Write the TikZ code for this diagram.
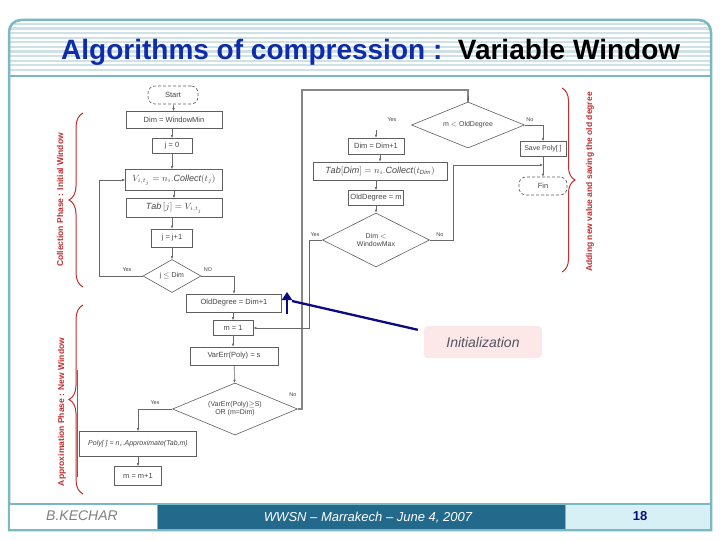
\documentclass[tikz,border=0pt]{standalone}
\usepackage{fontspec}
\setmainfont{Liberation Sans}
\usetikzlibrary{shapes.geometric,arrows.meta,decorations.pathreplacing}
\definecolor{frameC}{RGB}{120,185,195}
\definecolor{stripeC}{RGB}{205,225,230}
\definecolor{titleB}{RGB}{15,45,170}
\definecolor{braceC}{RGB}{195,45,45}
\definecolor{footD}{RGB}{35,105,140}
\definecolor{footL}{RGB}{215,240,245}
\definecolor{navyC}{RGB}{10,10,130}
\definecolor{boxC}{RGB}{95,95,95}
\definecolor{lineC}{RGB}{105,105,105}
\definecolor{txtC}{RGB}{70,70,70}
\definecolor{pinkC}{RGB}{252,232,232}
\definecolor{initT}{RGB}{85,85,95}
\tikzset{
  fb/.style={draw=boxC, line width=0.6pt, fill=white, text=txtC, font=\fontsize{7.5}{8.5}\selectfont, inner sep=1pt, align=center},
  mb/.style={fb, font=\fontsize{9}{10}\selectfont},
  dia/.style={fb, diamond, inner sep=0pt, font=\fontsize{7}{8}\selectfont},
  term/.style={fb, rounded corners=7pt, densely dashed},
  arr/.style={draw=lineC, line width=0.6pt, -{Latex[length=3pt,width=2.6pt]}},
  glab/.style={text=txtC, font=\fontsize{5.5}{6}\selectfont, inner sep=0pt},
  brc/.style={draw=braceC, line width=1pt, decorate},
  blab/.style={text=braceC, font=\bfseries\fontsize{8.5}{9}\selectfont, rotate=90, inner sep=0pt},
}
\begin{document}
\begin{tikzpicture}[x=1pt,y=-1pt]
\useasboundingbox (0,0) rectangle (720,540);
\fill[white] (0,0) rectangle (720,540);
% title band stripes
\foreach \yy in {24,28.6,...,74} \draw[stripeC,line width=2.2pt] (10,\yy) -- (710,\yy);
% frame
\draw[frameC,line width=2.5pt] (9,530) -- (9,100) [rounded corners=12pt] -- (9,20) -- (711,20) -- (711,100) [sharp corners] -- (711,530) -- cycle;
\draw[frameC,line width=2.5pt] (9,76) -- (711,76);
% title
\node[anchor=base west, inner sep=0pt, font=\bfseries\fontsize{28}{30}\selectfont] (title) at (61,60)
  {\textcolor{titleB}{Algorithms of compression :}\ \ Variable Window};
% footer
\fill[white] (10,505) rectangle (157,529);
\fill[footD] (158,505) rectangle (565,529);
\fill[footL] (566,505) rectangle (710,529);
\draw[frameC,line width=2pt] (9,504) -- (711,504);
\draw[frameC,line width=1pt] (157.5,504) -- (157.5,530) (565.5,504) -- (565.5,530);
\node[font=\itshape\fontsize{14}{16}\selectfont, text=gray, inner sep=0pt] (auth) at (82,516) {B.KECHAR};
\node[font=\itshape\fontsize{13}{15}\selectfont, text=white, inner sep=0pt] (conf) at (368,518) {WWSN -- Marrakech -- June 4, 2007};
\node[font=\bfseries\fontsize{13}{15}\selectfont, text=navyC, inner sep=0pt] (pg) at (640,516) {18};

% ---------- flowchart ----------
\node[term, minimum width=50pt, minimum height=18pt] (start) at (173,95) {Start};
\node[fb, minimum width=96pt, minimum height=17pt] (dimmin) at (174,120) {Dim = WindowMin};
\node[fb, minimum width=40pt, minimum height=15pt] (j0) at (172,146) {j = 0};
\node[mb, minimum width=97pt, minimum height=21pt] (vcol) at (174,180) {$V_{i,t_j} = n_i.\mathit{Collect}(t_j)$};
\node[mb, minimum width=96pt, minimum height=19pt] (tabj) at (174,208) {$\mathit{Tab}\,[j]=V_{i,t_j}$};
\node[fb, minimum width=41pt, minimum height=18pt] (jinc) at (172,238) {j = j+1};
\node[dia, aspect=1.75, minimum width=58pt, minimum height=33pt] (d1) at (172,276) {j $\le$ Dim};
\node[fb, minimum width=95pt, minimum height=18pt] (old1) at (234,303) {OldDegree = Dim+1};
\node[fb, minimum width=40pt, minimum height=15pt] (m1) at (233,328) {m = 1};
\node[fb, minimum width=88pt, minimum height=18pt] (varerr) at (234,356) {VarErr(Poly) = s};
\node[dia, aspect=2.4, minimum width=125pt, minimum height=52pt] (d2) at (235,409) {(VarErr(Poly)$\geq$S)\\OR (m=Dim)};
\node[fb, minimum width=117pt, minimum height=25pt, font=\itshape\fontsize{7}{8}\selectfont] (poly) at (138,444) {Poly[ ] = n$_i$.Approximate(Tab,m)};
\node[fb, minimum width=47pt, minimum height=19pt] (mm1) at (138,476) {m = m+1};

\node[dia, aspect=2.45, minimum width=113pt, minimum height=46pt] (d3) at (468,125) {m $<$ OldDegree};
\node[fb, minimum width=56pt, minimum height=16pt] (dimp) at (376,146) {Dim = Dim+1};
\node[mb, minimum width=134pt, minimum height=18pt] (tabdim) at (380,171) {$\mathit{Tab}[\mathit{Dim}]=n_i.\mathit{Collect}(t_{\mathit{Dim}})$};
\node[fb, minimum width=55pt, minimum height=15pt] (oldm) at (376,198) {OldDegree = m};
\node[dia, aspect=2, minimum width=107pt, minimum height=54pt] (d4) at (376,240) {Dim $<$\\WindowMax};
\node[fb, minimum width=46pt, minimum height=15pt, font=\fontsize{7}{8}\selectfont] (save) at (543,149) {Save Poly[ ]};
\node[term, minimum width=48pt, minimum height=18pt] (fin) at (543,186) {Fin};

% connectors left column
\draw[arr] (start) -- (dimmin);
\draw[arr] (dimmin.south -| j0) -- (j0);
\draw[arr] (j0) -- (j0 |- vcol.north);
\draw[arr] (vcol.south -| tabj) -- (tabj);
\draw[arr] (tabj.south -| jinc) -- (jinc);
\draw[arr] (jinc) -- (d1);
\draw[arr] (d1.west) -- (99,276) |- (vcol.west);
\node[glab] (yes1) at (127,270) {Yes};
\draw[arr] (d1.east) -| (old1.north);
\node[glab] (no1) at (208,270) {NO};
\draw[arr] (old1.south -| m1) -- (m1);
\draw[arr] (m1) -- (m1 |- varerr.north);
\draw[arr] (varerr) -- (d2);
\draw[arr] (d2.west) -| (poly.north);
\node[glab] (yes2) at (155,403) {Yes};
\draw[arr] (poly) -- (mm1);
\draw[lineC!80, line width=1.2pt] (d2.east) -- (302,409) -- (302,90) -| (d3.north);
\draw[arr] (468,96) -- (d3.north);
\node[glab] (no2) at (293,395) {No};
% right column
\node[glab] (yes3) at (392,120) {Yes};
\coordinate (yin) at (376,130);
\draw[arr] (yin) -- (dimp);
\draw[arr] (dimp.south -| tabdim.north) -- (tabdim);
\draw[arr] (tabdim.south -| oldm) -- (oldm);
\draw[arr] (oldm) -- (d4);
\draw[arr] (d4.west) -- (309,240) |- (m1.east);
\node[glab] (yes4) at (315,235) {Yes};
\draw[arr] (d4.east) -- (453,240) |- (543,165);
\node[glab] (no4) at (440,235) {No};
\draw[arr] (d3.east) -| (save.north);
\node[glab] (no3) at (530,120) {No};
\draw[arr] (save) -- (fin);
\draw[lineC, line width=0.5pt] (77,370) -- (77,477);

% braces
\draw[brc, decoration={brace, amplitude=14pt}] (83,287) -- (83,113);
\node[blab] (bl1) at (60,200) {Collection Phase : Initial Window};
\draw[brc, decoration={brace, amplitude=14pt}] (83,494) -- (83,305);
\node[blab] (bl2) at (62,412) {Approximation Phase : New Window};
\draw[brc, decoration={brace, amplitude=13pt}] (562,88) -- (562,272);
\node[blab] (bl3) at (590,182) {Adding new value and saving the old degree};

% initialization callout
\node[fill=pinkC, rounded corners=4pt, minimum width=118pt, minimum height=32pt, text=initT, font=\itshape\fontsize{14}{16}\selectfont] (init) at (483,342) {Initialization};
\coordinate (bend) at (292,301);
\coordinate (hbase) at (287,314);
\coordinate (htip) at (287,292);
\draw[navyC, line width=2.3pt] ([xshift=-6pt,yshift=-4pt]init.north west) -- (bend);
\draw[navyC, line width=2.3pt, -{Triangle[width=10pt,length=8pt]}] (hbase) -- (htip);
\end{tikzpicture}
\end{document}
